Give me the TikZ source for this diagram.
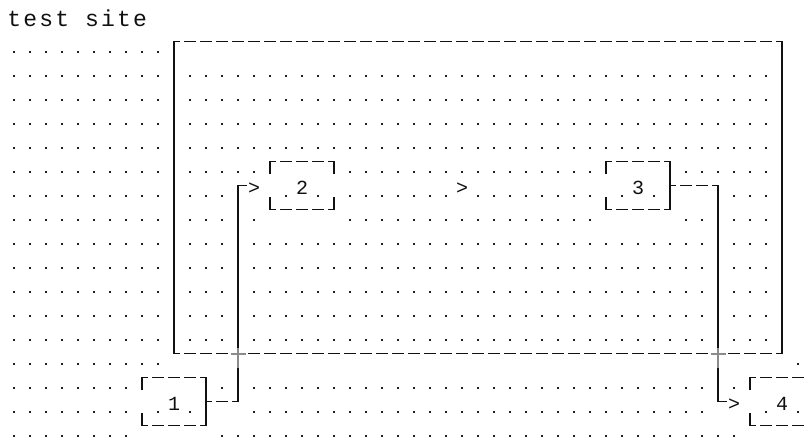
\documentclass[tikz,border=0pt]{standalone}
\usepackage{fontspec}
\usepackage{xcolor}
\newfontfamily\gridfont{Liberation Mono}
\newfontfamily\titlefont{Liberation Mono}[LetterSpace=9.6]
\definecolor{clrInk}{HTML}{111111}
\definecolor{clrDot}{HTML}{222222}
\definecolor{clrCross}{HTML}{8A8A8A}

\begin{document}
\begin{tikzpicture}[
    x=16pt, y=-24pt,
    glyph/.style={font=\gridfont\fontsize{20pt}{24pt}\selectfont, text=clrInk, inner sep=0pt, outer sep=0pt, minimum width=16pt, text height=18pt, text depth=0pt},
    titletext/.style={font=\titlefont\fontsize{23pt}{24pt}\selectfont, text=clrInk, inner sep=0pt, anchor=base west},
    cellbox/.style={glyph, minimum width=64pt, minimum height=48pt},
    sitebox/.style={inner sep=0pt, outer sep=0pt, minimum width=608pt, minimum height=312pt},
    hdash/.style={draw=clrInk, line width=1.3pt, dash pattern=on 12pt off 4pt, dash phase=6pt},
    vline/.style={draw=clrInk, line width=1.3pt, line cap=rect},
    crossmark/.style={draw=clrCross, line width=1.6pt},
]
\fill[white] (-14pt,17.7pt) rectangle (794pt,-421.3pt);
\useasboundingbox (-14pt,17.7pt) rectangle (794pt,-421.3pt);

% Dot grid
\foreach \r/\a/\b in {1/0/9,
    2/0/9, 2/11/47, 3/0/9, 3/11/47, 4/0/9, 4/11/47, 5/0/9, 5/11/47,
    6/0/9, 6/11/15, 6/21/36, 6/42/47,
    7/0/9, 7/11/13, 7/17/17, 7/19/19, 7/21/27, 7/29/36, 7/38/38, 7/40/40, 7/45/47,
    8/0/9, 8/11/13, 8/15/15, 8/21/36, 8/42/43, 8/45/47,
    14/0/9, 14/49/49,
    15/0/7, 15/13/13, 15/15/43, 15/45/45,
    16/0/7, 16/9/9, 16/11/11, 16/15/43, 16/47/47, 16/49/49,
    17/0/7, 17/13/45}
  \foreach \c in {\a,...,\b}
    \fill[clrDot] (\c,\r+0.4167) ++(-0.85pt,-0.85pt) rectangle ++(1.7pt,1.7pt);
\foreach \r in {9,...,13}
  \foreach \a/\b in {0/9, 11/13, 15/43, 45/47}
    \foreach \c in {\a,...,\b}
      \fill[clrDot] (\c,\r+0.4167) ++(-0.85pt,-0.85pt) rectangle ++(1.7pt,1.7pt);

% Title
\node[titletext] (ttl) at ([xshift=-6.9pt]0,0.36) {test site};

% Site frame
\node[sitebox] (site) at (29,7.5) {};
\draw[hdash] (site.north west) -- (site.north east);
\draw[hdash] (site.south west) -- (site.south east);
\draw[vline] (site.north west) -- (site.south west);
\draw[vline] (site.north east) -- (site.south east);

% Boxes
\node[cellbox] (b1) at (10,16) {1};
\node[cellbox] (b2) at (18,7) {2};
\node[cellbox] (b3) at (39,7) {3};
\node[cellbox] (b4) at (48,16) {4};
\foreach \bx in {b1,b2,b3,b4} {
  \draw[hdash] (\bx.north west) -- (\bx.north east);
  \draw[hdash] (\bx.south west) -- (\bx.south east);
  \draw[vline] (\bx.north west) -- ++(0,-12pt);
  \draw[vline] (\bx.south west) -- ++(0,12pt);
}
\foreach \bx in {b2,b4} {
  \draw[vline] (\bx.north east) -- ++(0,-12pt);
  \draw[vline] (\bx.south east) -- ++(0,12pt);
}
\foreach \bx in {b1,b3}
  \draw[vline] (\bx.north east) -- (\bx.south east);

% Arrow heads
\node[glyph] (gt1) at (15,7) {>};
\node[glyph] (gt2) at (28,7) {>};
\node[glyph] (gt3) at (45,16) {>};

% Connectors
\coordinate (k1) at (14,16);
\coordinate (k2) at (44,7);
\draw[hdash] (b1.east) -- (k1);
\draw[vline] (k1) |- (gt1.west);
\draw[hdash] (b3.east) -- (k2);
\draw[vline] (k2) |- (gt3.west);

% Crossings with the frame
\coordinate (x1) at (14,14);
\coordinate (x2) at (44,14);
\foreach \xc in {x1,x2} {
  \fill[white] ([xshift=-8pt,yshift=6pt]\xc) rectangle ([xshift=8pt,yshift=-14pt]\xc);
  \draw[crossmark] ([xshift=-7.5pt]\xc) -- ([xshift=7.5pt]\xc);
  \draw[crossmark] ([yshift=6pt]\xc) -- ([yshift=-14pt]\xc);
}

\end{tikzpicture}
\end{document}
